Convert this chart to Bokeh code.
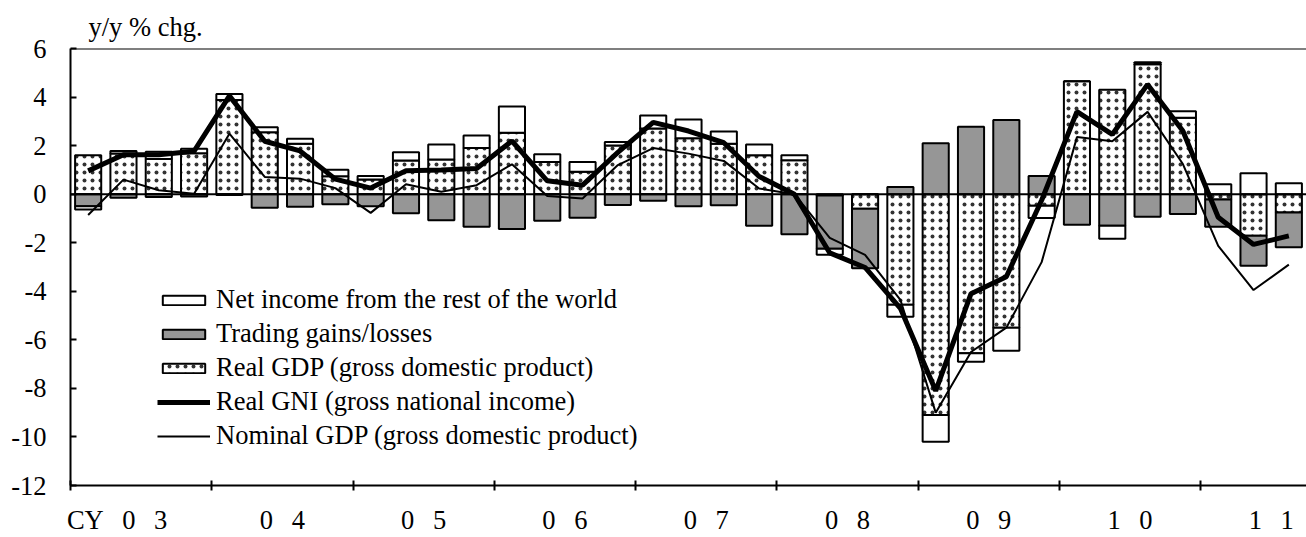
from bokeh.plotting import figure
from bokeh.models import (ColumnDataSource, FixedTicker, Span, Legend,
                          LegendItem, Range1d)
from bokeh.embed import file_html
from bokeh.resources import INLINE

# ---------------- data (y/y % chg., contributions) ----------------
quarters = ["03Q1", "03Q2", "03Q3", "03Q4", "04Q1", "04Q2", "04Q3", "04Q4",
            "05Q1", "05Q2", "05Q3", "05Q4", "06Q1", "06Q2", "06Q3", "06Q4",
            "07Q1", "07Q2", "07Q3", "07Q4", "08Q1", "08Q2", "08Q3", "08Q4",
            "09Q1", "09Q2", "09Q3", "09Q4", "10Q1", "10Q2", "10Q3", "10Q4",
            "11Q1", "11Q2", "11Q3"]

real_gdp = [1.6, 1.67, 1.45, 1.69, 3.88, 2.55, 2.08, 0.74,
            0.6, 1.39, 1.43, 1.9, 2.53, 1.33, 0.92, 2.0,
            2.7, 2.3, 2.08, 1.6, 1.4, -0.05, -0.6, -4.55,
            -9.1, -6.55, -5.5, -0.48, 4.65, 4.3, 5.35, 3.15,
            -0.22, -1.71, -0.75]

trading_gains = [-0.5, -0.15, -0.12, -0.1, -0.03, -0.56, -0.52, -0.42,
                 -0.5, -0.79, -1.07, -1.34, -1.43, -1.09, -0.97, -0.45,
                 -0.27, -0.5, -0.46, -1.3, -1.65, -2.2, -2.45, 0.3,
                 2.1, 2.78, 3.05, 0.75, -1.26, -1.3, -0.93, -0.82,
                 -1.12, -1.24, -1.44]

net_income = [-0.13, 0.11, 0.3, 0.18, 0.25, 0.21, 0.2, 0.27,
              0.15, 0.34, 0.62, 0.52, 1.08, 0.31, 0.41, 0.15,
              0.54, 0.78, 0.5, 0.45, 0.2, -0.25, 0.0, -0.5,
              -1.1, -0.35, -0.95, -0.5, 0.0, -0.54, 0.08, 0.27,
              0.41, 0.86, 0.45]

real_gni = [0.96, 1.62, 1.62, 1.77, 4.05, 2.18, 1.78, 0.62,
            0.25, 0.96, 1.0, 1.06, 2.19, 0.55, 0.37, 1.72,
            2.96, 2.6, 2.12, 0.73, 0.0, -2.42, -3.02, -4.7,
            -8.1, -4.1, -3.4, -0.25, 3.4, 2.46, 4.52, 2.6,
            -0.95, -2.07, -1.72]

nominal_gdp = [-0.86, 0.6, 0.16, 0.02, 2.49, 0.71, 0.64, 0.25,
               -0.77, 0.41, 0.1, 0.37, 1.23, -0.08, -0.18, 1.2,
               1.9, 1.67, 1.37, 0.23, 0.0, -1.8, -2.5, -4.35,
               -9.0, -6.5, -5.5, -2.8, 2.35, 2.18, 3.39, 1.24,
               -2.13, -3.95, -2.9]

SP = "\u2002\u2009"
year_labels = ["CY" + SP + "0" + SP + "3", "0" + SP + "4", "0" + SP + "5",
               "0" + SP + "6", "0" + SP + "7", "0" + SP + "8", "0" + SP + "9",
               "1" + SP + "0", "1" + SP + "1"]
y_ticks = [-12, -10, -8, -6, -4, -2, 0, 2, 4, 6]
y_tick_labels = ["-12", "-10", "-8", "-6", "-4", "-2", "0", "2", "4", "6"]
y_title = "y/y % chg."

legend_labels = ["Net income from the rest of the world",
                 "Trading gains/losses",
                 "Real GDP (gross domestic product)",
                 "Real GNI (gross national income)",
                 "Nominal GDP (gross domestic product)"]

FONT = "Liberation Serif"
FS = "26.5px"

# ---------------- stacking (positive / negative separately) ----------------
n = len(quarters)
xs = list(range(n))


def stack(series_list):
    pos = [0.0] * n
    neg = [0.0] * n
    out = []
    for s in series_list:
        b, t = [], []
        for i, v in enumerate(s):
            if v >= 0:
                b.append(pos[i]); t.append(pos[i] + v); pos[i] += v
            else:
                t.append(neg[i]); b.append(neg[i] + v); neg[i] += v
        out.append((b, t))
    return out


(gdp_b, gdp_t), (trd_b, trd_t), (net_b, net_t) = stack(
    [real_gdp, trading_gains, net_income])

src = ColumnDataSource(dict(x=xs, q=quarters,
                            gdp_b=gdp_b, gdp_t=gdp_t,
                            trd_b=trd_b, trd_t=trd_t,
                            net_b=net_b, net_t=net_t,
                            gni=real_gni, nom=nominal_gdp))

# ---------------- figure ----------------
p = figure(width=1306, height=537,
           x_range=Range1d(-0.5, n - 0.5), y_range=Range1d(-12, 6),
           output_backend="svg", toolbar_location=None, title=y_title,
           min_border_left=70, min_border_right=0,
           min_border_top=48, min_border_bottom=50)
p.xgrid.visible = False
p.ygrid.visible = False
p.outline_line_color = None
p.background_fill_color = "white"
p.border_fill_color = "white"

# title used as the unit label above the y axis
p.title.text_font = FONT
p.title.text_font_size = FS
p.title.text_font_style = "normal"
p.title.text_color = "black"
p.title.align = "left"
p.title.offset = 18
p.title.standoff = 13

# y axis
p.yaxis.ticker = FixedTicker(ticks=y_ticks, minor_ticks=[])
p.yaxis.major_label_overrides = {t: l for t, l in zip(y_ticks, y_tick_labels)}
p.yaxis.major_tick_in = 6
p.yaxis.major_tick_out = 0
p.yaxis.minor_tick_line_color = None
p.yaxis.axis_line_width = 2
p.yaxis.major_tick_line_width = 2
p.yaxis.major_label_text_font = FONT
p.yaxis.major_label_text_font_size = FS
p.yaxis.major_label_text_color = "black"
p.yaxis.major_label_standoff = 24

# x axis: labels at year centres (no tick marks), tick marks at year bounds
bounds = [-0.5 + 4 * k for k in range(9)]
label_pos = [0.82] + [1.5 + 4 * k for k in range(1, 9)]
p.xaxis.ticker = FixedTicker(ticks=label_pos, minor_ticks=bounds)
p.xaxis.major_label_overrides = {x: l for x, l in zip(label_pos, year_labels)}
p.xaxis.major_tick_line_color = None
p.xaxis.major_tick_in = 0
p.xaxis.major_tick_out = 5
p.xaxis.minor_tick_in = 5
p.xaxis.minor_tick_out = 5
p.xaxis.minor_tick_line_color = "black"
p.xaxis.minor_tick_line_width = 2
p.xaxis.axis_line_width = 2
p.xaxis.major_label_text_font = FONT
p.xaxis.major_label_text_font_size = FS
p.xaxis.major_label_text_color = "black"
p.xaxis.major_label_standoff = 14

# bars
BW = 0.74
r_gdp = p.vbar(x="x", bottom="gdp_b", top="gdp_t", width=BW, source=src,
               fill_color="white", line_color="black", line_width=2,
               hatch_pattern="dot", hatch_scale=8, hatch_color="#333333",
               hatch_weight=2)
r_trd = p.vbar(x="x", bottom="trd_b", top="trd_t", width=BW, source=src,
               fill_color="#969696", line_color="black", line_width=2)
r_net = p.vbar(x="x", bottom="net_b", top="net_t", width=BW, source=src,
               fill_color="white", line_color="black", line_width=2)

# reference lines
p.add_layout(Span(location=0, dimension="width", line_color="black", line_width=2))
p.add_layout(Span(location=6, dimension="width", line_color="black", line_width=2))

# lines
r_gni = p.line("x", "gni", source=src, line_color="black", line_width=5)
r_nom = p.line("x", "nom", source=src, line_color="black", line_width=2)

# legend
legend = Legend(items=[LegendItem(label=legend_labels[0], renderers=[r_net]),
                       LegendItem(label=legend_labels[1], renderers=[r_trd]),
                       LegendItem(label=legend_labels[2], renderers=[r_gdp]),
                       LegendItem(label=legend_labels[3], renderers=[r_gni]),
                       LegendItem(label=legend_labels[4], renderers=[r_nom])],
                location=(87, 34), orientation="vertical",
                label_text_font=FONT, label_text_font_size=FS,
                label_text_color="black",
                glyph_width=53, glyph_height=12, label_standoff=6,
                spacing=3, padding=0, margin=0,
                border_line_color=None, background_fill_alpha=0)
p.add_layout(legend)

open("out.html", "w").write(file_html(p, INLINE))
